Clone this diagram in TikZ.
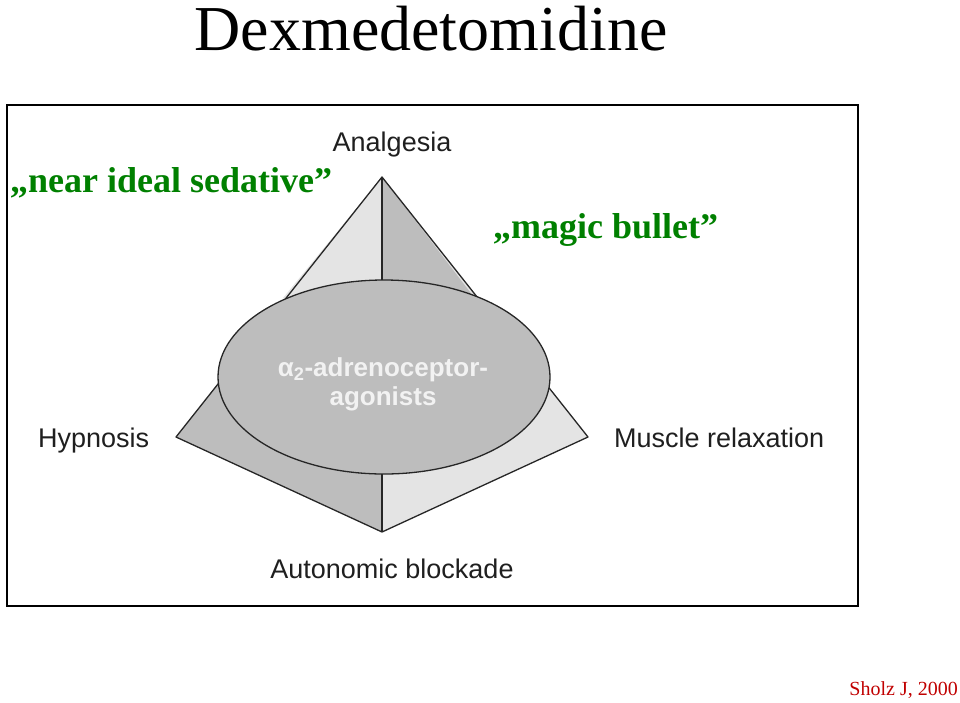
\documentclass[tikz,border=0pt]{standalone}
\usepackage{fontspec}
\setmainfont{Liberation Serif}
\newfontfamily\labelfont{Liberation Sans}
\usetikzlibrary{shapes.geometric}
\definecolor{facelight}{HTML}{E4E4E4}
\definecolor{facedark}{HTML}{BDBDBD}
\definecolor{sedgreen}{HTML}{008000}
\definecolor{refred}{HTML}{C00000}
\tikzset{
  face/.style={draw=black!85,line width=1.3pt,line join=round},
  effect/.style={font=\labelfont\fontsize{27}{30}\selectfont,
                 text=black!88,inner sep=0pt,anchor=base},
  quote/.style={font=\bfseries\fontsize{36}{40}\selectfont,
                text=sedgreen,inner sep=0pt,anchor=base west},
}

\begin{document}
\begin{tikzpicture}[x=1pt,y=-1pt]
  \useasboundingbox (0,0) rectangle (960,702);
  \node[font=\fontsize{64}{70}\selectfont,inner sep=0pt,anchor=base]
    (title) at (431,50) {Dexmedetomidine};
  \node[draw=black,line width=2pt,minimum width=851pt,minimum height=501pt,
        inner sep=0pt,anchor=north west] (frame) at (6,104) {};

  % corners of the double pyramid
  \coordinate (apex)  at (382,177);
  \coordinate (left)  at (176,437);
  \coordinate (right) at (588,437);
  \coordinate (base)  at (382,532);
  \coordinate (ul)    at (283,298);
  \coordinate (ur)    at (473,296);

  \fill[facedark]  (apex) -- (left) -- (base) -- cycle;
  \fill[facelight] (apex) -- (right) -- (base) -- cycle;
  \fill[facelight] (apex) -- (ul) -- (382,330) -- cycle;
  \fill[facedark]  (apex) -- (ur) -- (382,330) -- cycle;
  \draw[face] (apex) -- (left) -- (base) -- (right) -- cycle;
  \draw[face] (apex) -- (base);

  \node[ellipse,face,fill=facedark,minimum width=332pt,minimum height=194pt,
        inner sep=0pt] (agonist) at (384,377) {};
  \node[effect,text=white!95!black,align=center,
        font=\labelfont\bfseries\fontsize{26}{29}\selectfont]
    (agtext) at (383,405) {α\textsubscript{2}-adrenoceptor-\\agonists};

  \node[effect] (analgesia) at (392,151) {Analgesia};
  \node[effect,anchor=base west] (hypnosis) at (38,447) {Hypnosis};
  \node[effect,anchor=base west] (muscle) at (614,447) {Muscle relaxation};
  \node[effect] (autonomic) at (392,578) {Autonomic blockade};

  \node[quote] (ideal) at (10,192) {„near ideal sedative”};
  \node[quote] (bullet) at (493,238) {„magic bullet”};

  \node[font=\fontsize{20}{24}\selectfont,text=refred,inner sep=0pt,
        anchor=base east] (cite) at (958,695) {Sholz J, 2000};
\end{tikzpicture}
\end{document}
